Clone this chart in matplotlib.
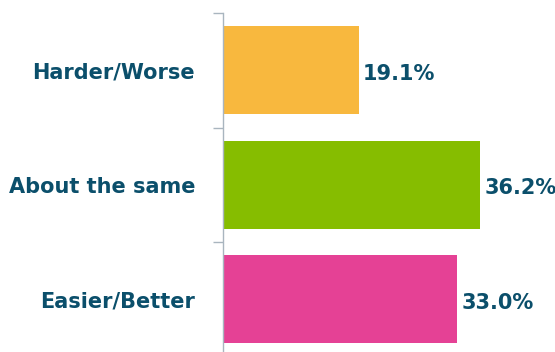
import matplotlib

matplotlib.use("Agg")
import matplotlib.pyplot as plt
import numpy as np

CATEGORIES = ["Harder/Worse", "About the same", "Easier/Better"]
VALUES = [19.1, 36.2, 33.0]
COLORS = ["#F8B83E", "#86BD00", "#E54195"]
TEXT = "#0B4F6B"
AXIS = "#A9B5BF"

plt.rcParams["font.family"] = ["DejaVu Sans"]

fig = plt.figure(figsize=(5.55, 3.52), dpi=100)
# axes runs off the bottom edge, like the original
ax = fig.add_axes([223 / 555, -4.5 / 352, 332 / 555, 343.5 / 352])

y = np.arange(len(CATEGORIES))
ax.barh(y, VALUES, height=0.77, color=COLORS)
for yi, v in zip(y, VALUES):
    ax.text(v + 0.6, yi + 0.03, f"{v:.1f}%", va="center", ha="left",
            fontsize=15, fontweight="bold", color=TEXT)

ax.set_xlim(0, 332 / 7.1)
ax.set_ylim(2.5, -0.5)
ax.set_yticks(y)
ax.set_yticklabels(CATEGORIES, fontsize=15, fontweight="bold", color=TEXT)
ax.set_yticks(np.arange(-0.5, 3, 1), minor=True)
ax.tick_params(axis="y", which="major", length=0, pad=20)
ax.tick_params(axis="y", which="minor", length=7, width=1, color=AXIS)
ax.set_xticks([])
for s in ["top", "right", "bottom"]:
    ax.spines[s].set_visible(False)
ax.spines["left"].set_color(AXIS)
ax.spines["left"].set_linewidth(1)

fig.savefig("out.png", dpi=100)
